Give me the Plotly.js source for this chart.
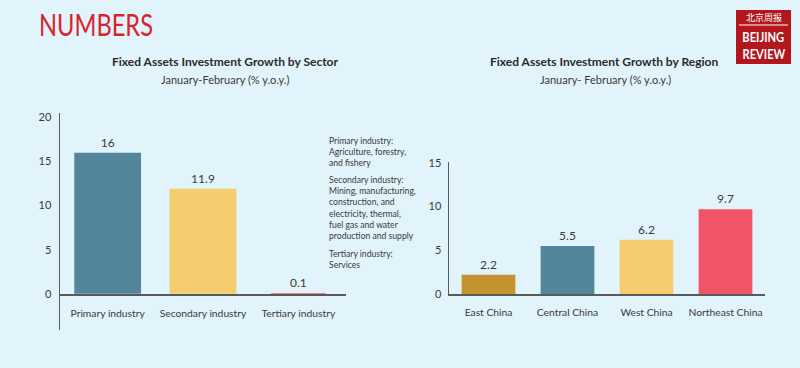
<!DOCTYPE html>
<html>
<head>
<meta charset="utf-8">
<script src="https://cdn.plot.ly/plotly-3.0.1.min.js"></script>
<style>html,body{margin:0;padding:0;background:#e1f3fb;}#chart{width:800px;height:368px;}</style>
</head>
<body>
<div id="chart"></div>
<script>
// ---- Data ----
const sectorCategories = ["Primary industry", "Secondary industry", "Tertiary industry"];
const sectorValues = [16, 11.9, 0.1];
const sectorLabels = ["16", "11.9", "0.1"];

const regionCategories = ["East China", "Central China", "West China", "Northeast China"];
const regionValues = [2.2, 5.5, 6.2, 9.7];
const regionLabels = ["2.2", "5.5", "6.2", "9.7"];

const leftTicks = [0, 5, 10, 15, 20];
const rightTicks = [0, 5, 10, 15];

const noteParagraphs = [
  "Primary industry:<br>Agriculture, forestry,<br>and fishery",
  "Secondary industry:<br>Mining, manufacturing,<br>construction, and<br>electricity, thermal,<br>fuel gas and water<br>production and supply",
  "Tertiary industry:<br>Services"
];

// ---- Style ----
const W = 800, H = 368;
const px = v => v / W;
const py = v => 1 - v / H;
const FONT = "Lato, 'Open Sans', sans-serif";
const TXT = "#3a3a3a";
const teal = "#53859b", yellow = "#f6cd6e", red = "#ef5467", gold = "#c4932e";
const AXIS = "#5a5a5a";

const traces = [
  {
    type: "bar", x: sectorCategories, y: sectorValues,
    xaxis: "x", yaxis: "y",
    marker: {color: [teal, yellow, red]},
    width: [0.7, 0.7, 0.57],
    text: sectorLabels, textposition: "outside", cliponaxis: false,
    textfont: {family: FONT, size: 12, color: TXT},
    hoverinfo: "skip"
  },
  {
    type: "bar", x: regionCategories, y: regionValues,
    xaxis: "x2", yaxis: "y2",
    marker: {color: [gold, teal, yellow, red]},
    width: 0.68,
    text: regionLabels, textposition: "outside", cliponaxis: false,
    textfont: {family: FONT, size: 12, color: TXT},
    hoverinfo: "skip"
  }
];

const annotations = [
  {text: "NUMBERS", x: px(37), y: py(24), xanchor: "left", yanchor: "middle",
   font: {family: FONT, size: 31, color: "#d9232d"}},
  {text: "<b>Fixed Assets Investment Growth by Sector</b>", x: px(225), y: py(62), xanchor: "center", yanchor: "middle",
   font: {family: FONT, size: 12, color: "#2a2a2a"}},
  {text: "January-February (% y.o.y.)", x: px(225), y: py(80), xanchor: "center", yanchor: "middle",
   font: {family: FONT, size: 11, color: TXT}},
  {text: "<b>Fixed Assets Investment Growth by Region</b>", x: px(604), y: py(62), xanchor: "center", yanchor: "middle",
   font: {family: FONT, size: 12, color: "#2a2a2a"}},
  {text: "January- February (% y.o.y.)", x: px(605), y: py(80), xanchor: "center", yanchor: "middle",
   font: {family: FONT, size: 11, color: TXT}},
  {text: noteParagraphs[0], x: px(327), y: py(134), xanchor: "left", yanchor: "top", align: "left",
   font: {family: FONT, size: 8.6, color: TXT}},
  {text: noteParagraphs[1], x: px(327), y: py(173), xanchor: "left", yanchor: "top", align: "left",
   font: {family: FONT, size: 8.6, color: TXT}},
  {text: noteParagraphs[2], x: px(327), y: py(247), xanchor: "left", yanchor: "top", align: "left",
   font: {family: FONT, size: 8.6, color: TXT}},
  // logo
  {text: "北京周报", x: px(763.5), y: py(17.5), xanchor: "center", yanchor: "middle",
   font: {family: "'Noto Sans CJK SC', sans-serif", size: 9, color: "#ffffff"}},
  {text: "<b>BEIJING</b>", x: px(763.5), y: py(36), xanchor: "center", yanchor: "middle",
   font: {family: FONT, size: 14, color: "#ffffff"}},
  {text: "<b>REVIEW</b>", x: px(763.5), y: py(54), xanchor: "center", yanchor: "middle",
   font: {family: FONT, size: 14, color: "#ffffff"}}
].map(a => Object.assign({xref: "paper", yref: "paper", showarrow: false}, a));

const shapes = [
  {type: "rect", xref: "paper", yref: "paper", x0: px(736), x1: px(791), y0: py(64), y1: py(10),
   fillcolor: "#b3171d", line: {width: 0}, layer: "below"},
  {type: "line", xref: "paper", yref: "paper", x0: px(739), x1: px(788), y0: py(25), y1: py(25),
   line: {color: "#ffffff", width: 1}}
];

const layout = {
  width: W, height: H,
  margin: {l: 0, r: 0, t: 0, b: 0},
  paper_bgcolor: "#e1f3fb", plot_bgcolor: "rgba(0,0,0,0)",
  showlegend: false,
  font: {family: FONT, color: TXT},
  xaxis: {
    domain: [px(60), px(346)], anchor: "free", position: py(294),
    showline: true, linecolor: AXIS, linewidth: 1.5, ticks: "", showgrid: false,
    layer: "below traces",
    tickfont: {family: FONT, size: 10.3, color: TXT}, ticklabelstandoff: 9, fixedrange: true
  },
  yaxis: {
    domain: [py(330), py(113)], anchor: "x", range: [-4.1, 20.5],
    tickvals: leftTicks, showline: true, linecolor: AXIS, linewidth: 1.5,
    ticks: "", showgrid: false, zeroline: false,
    tickfont: {family: FONT, size: 11, color: TXT}, ticklabelstandoff: 5, fixedrange: true
  },
  xaxis2: {
    domain: [px(449), px(765)], anchor: "y2",
    showline: true, linecolor: AXIS, linewidth: 1.5, ticks: "", showgrid: false,
    tickfont: {family: FONT, size: 10.3, color: TXT}, ticklabelstandoff: 8, fixedrange: true
  },
  yaxis2: {
    domain: [py(294), py(162)], anchor: "x2", range: [0, 15.1],
    tickvals: rightTicks, showline: true, linecolor: AXIS, linewidth: 1.5,
    ticks: "", showgrid: false, zeroline: false,
    tickfont: {family: FONT, size: 11, color: TXT}, ticklabelstandoff: 4, fixedrange: true
  },
  annotations: annotations,
  shapes: shapes
};

// condense some display text horizontally to match the narrow lettering
function condense(gd, idx, targetWidth, origin) {
  const t = gd.querySelector('.annotation[data-index="' + idx + '"] text');
  if (!t) return;
  const w = t.getBBox().width;
  if (!w) return;
  t.style.transformBox = "fill-box";
  t.style.transformOrigin = origin;
  t.style.transform = "scaleX(" + (targetWidth / w) + ")";
}

Plotly.newPlot("chart", traces, layout, {displayModeBar: false, staticPlot: true}).then(gd => {
  condense(gd, 0, 114, "left center");
  condense(gd, 9, 42, "center");
  condense(gd, 10, 43, "center");
});
</script>
</body>
</html>
